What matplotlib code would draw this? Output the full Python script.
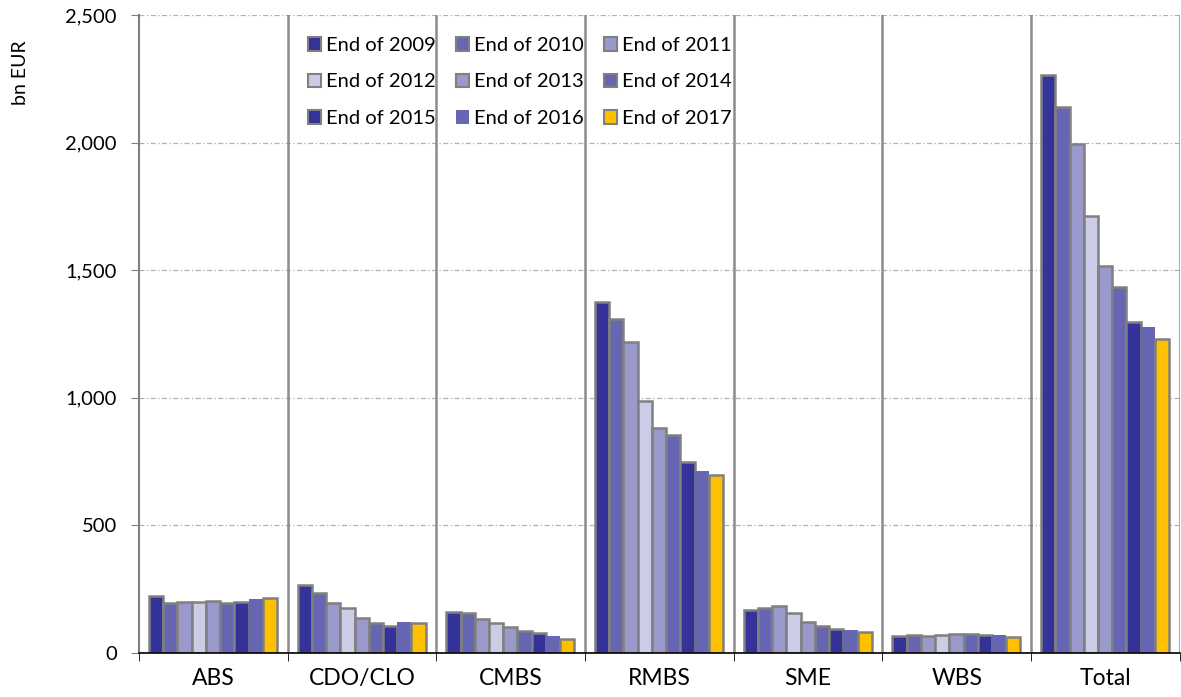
import matplotlib.pyplot as plt
from matplotlib.patches import Patch

# data (bn EUR outstanding)
categories = ["ABS", "CDO/CLO", "CMBS", "RMBS", "SME", "WBS", "Total"]
years = ["End of 2009", "End of 2010", "End of 2011", "End of 2012", "End of 2013",
         "End of 2014", "End of 2015", "End of 2016", "End of 2017"]
abs_vals = [225, 197, 200, 200, 205, 198, 200, 210, 215]
cdo_vals = [266, 235, 197, 175, 138, 118, 105, 123, 119]
cmbs_vals = [162, 157, 134, 118, 101, 87, 80, 67, 55]
rmbs_vals = [1377, 1309, 1217, 989, 880, 854, 750, 712, 697]
sme_vals = [168, 176, 183, 159, 121, 107, 94, 89, 81]
wbs_vals = [67, 72, 68, 71, 73, 76, 69, 69, 64]
total_vals = [2263, 2138, 1993, 1712, 1517, 1433, 1298, 1276, 1230]
y_ticks = [0, 500, 1000, 1500, 2000, 2500]

colors = ["#333399", "#6666b3", "#9999cc", "#ccccE6", "#9999cc",
          "#6666b3", "#333399", "#6666b3", "#ffc000"]
edges = ["#808080"] * 7 + ["none", "#808080"]

groups = [abs_vals, cdo_vals, cmbs_vals, rmbs_vals, sme_vals, wbs_vals, total_vals]

plt.rcParams['font.family'] = ['Lato', 'DejaVu Sans']

fig = plt.figure(figsize=(11.81, 6.97), dpi=100)
ax = fig.add_axes([0.1177, 0.063, 0.8813, 0.9155])

bar_w = 0.0957
for j in range(len(years)):
    xs = [i + 0.4975 + (j - 4) * bar_w for i in range(len(categories))]
    hs = [g[j] for g in groups]
    ax.bar(xs, hs, width=bar_w, color=colors[j], edgecolor=edges[j],
           linewidth=1.8, zorder=3)

# horizontal dash-dot grid
for y in y_ticks[1:]:
    ax.axhline(y, color="#b0b0b0", linewidth=0.9, linestyle=(0, (4, 2, 1, 2)), zorder=1)

# vertical separators between categories
for k in range(1, len(categories) + 1):
    ax.axvline(k, color="#8c8c8c", linewidth=1.8, zorder=2)

ax.set_xlim(0, len(categories))
ax.set_ylim(0, 2500)
ax.set_yticks(y_ticks)
ax.set_yticklabels([f"{v:,}" for v in y_ticks], fontsize=14.5)
ax.set_xticks([i + 0.5 for i in range(len(categories))])
ax.set_xticklabels(categories, fontsize=16.5)
ax.set_xticks(range(len(categories) + 1), minor=True)
ax.tick_params(axis='x', which='major', length=0, pad=11)
ax.tick_params(axis='x', which='minor', length=6, color="black", direction='out')
ax.tick_params(axis='y', length=6, color="#808080", pad=10)

for s in ["top", "right"]:
    ax.spines[s].set_visible(False)
ax.spines["left"].set_color("#808080")
ax.spines["left"].set_linewidth(1.5)
ax.spines["bottom"].set_color("black")
ax.spines["bottom"].set_linewidth(1.2)
ax.spines["bottom"].set_zorder(4)

fig.text(0.017, 0.895, "bn EUR", rotation=90, va="center", ha="center", fontsize=14)

# legend filled row-wise like the original
handles = [Patch(facecolor=colors[j], edgecolor=edges[j], linewidth=1.5) for j in range(len(years))]
order = [0, 3, 6, 1, 4, 7, 2, 5, 8]
ax.legend([handles[j] for j in order], [years[j] for j in order], ncol=3,
          loc="upper left", bbox_to_anchor=(0.145, 0.994), frameon=False,
          fontsize=14.5, handlelength=0.65, handleheight=0.65, handletextpad=0.25,
          columnspacing=1.0, labelspacing=0.97)

fig.savefig("out.png", dpi=100)
